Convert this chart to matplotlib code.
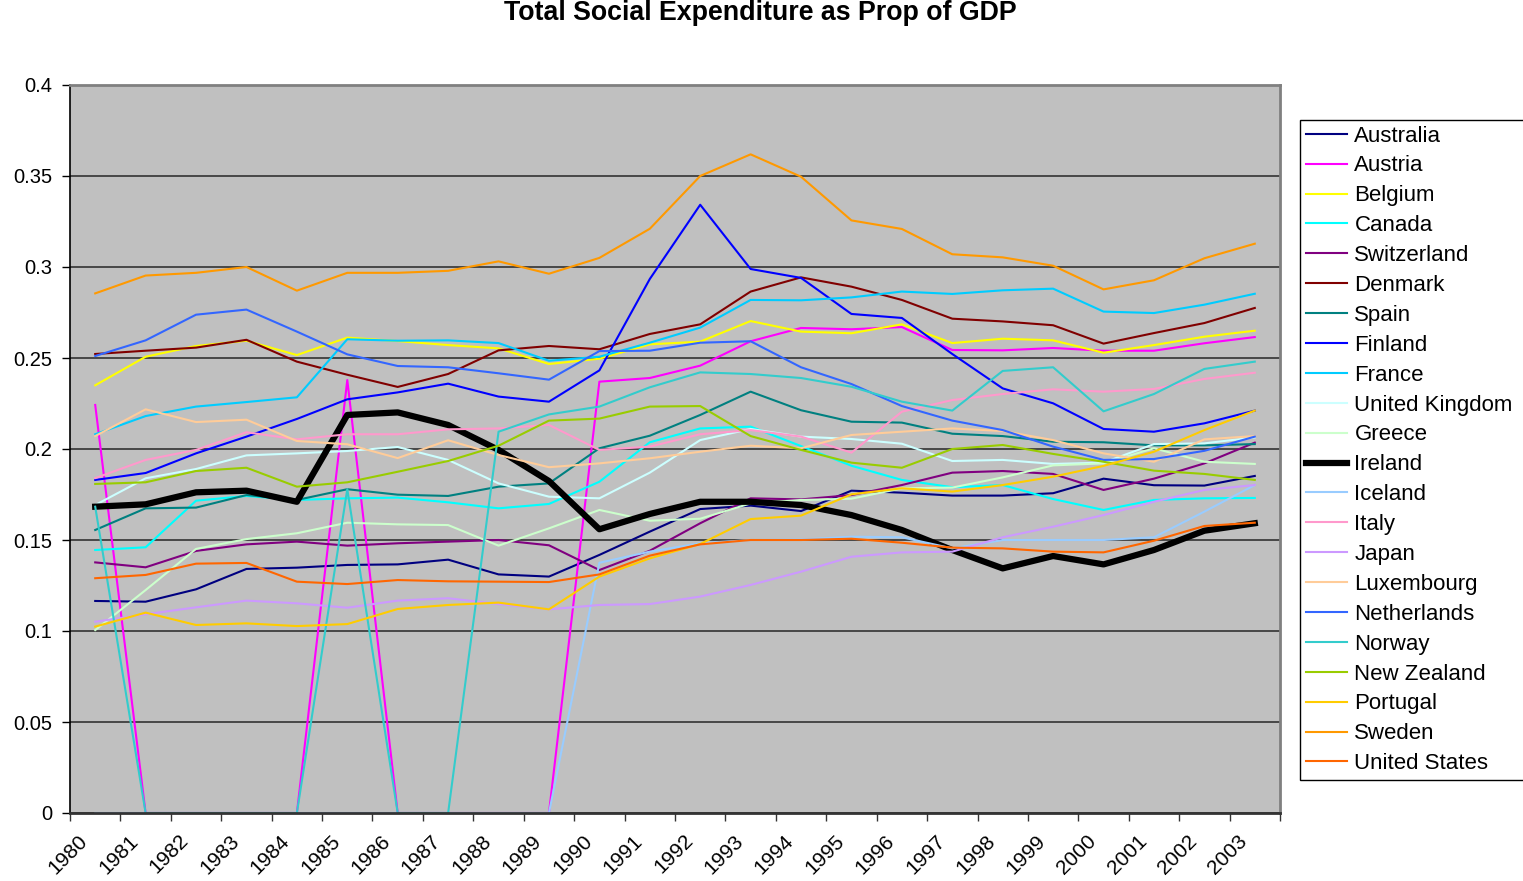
import matplotlib
matplotlib.use("Agg")
import matplotlib.pyplot as plt
import matplotlib.transforms as mtransforms
import numpy as np

plt.rcParams['font.family'] = ['Liberation Sans', 'DejaVu Sans']

years = [str(y) for y in range(1980, 2004)]

australia = [0.1165, 0.1161, 0.1229, 0.1341, 0.1348, 0.1363, 0.1366, 0.1392, 0.1311, 0.1299, 0.1418, 0.1546,
             0.167, 0.1689, 0.1659, 0.1771, 0.176, 0.1744, 0.1744, 0.1757, 0.1837, 0.1801, 0.1799, 0.1852]
austria = [0.2242, 0, 0, 0, 0, 0.2379, 0, 0, 0, 0, 0.237, 0.239,
           0.2458, 0.2592, 0.2665, 0.2658, 0.267, 0.2544, 0.2542, 0.2555, 0.254, 0.254, 0.2581, 0.2615]
belgium = [0.235, 0.2507, 0.2566, 0.2595, 0.2516, 0.2612, 0.2593, 0.2571, 0.2553, 0.2467, 0.2496, 0.2575,
           0.259, 0.2703, 0.2645, 0.2636, 0.2685, 0.2582, 0.2606, 0.2597, 0.2529, 0.2571, 0.2617, 0.265]
canada = [0.1445, 0.146, 0.1716, 0.1742, 0.172, 0.1729, 0.1733, 0.1707, 0.1674, 0.1698, 0.182, 0.2037,
          0.2113, 0.2123, 0.2016, 0.1908, 0.183, 0.179, 0.1802, 0.1725, 0.1665, 0.172, 0.1729, 0.1731]
switzerland = [0.1377, 0.135, 0.144, 0.1476, 0.1491, 0.1469, 0.1482, 0.1491, 0.15, 0.1471, 0.1335, 0.1441,
               0.1592, 0.1729, 0.1723, 0.1747, 0.1802, 0.187, 0.1879, 0.1863, 0.1775, 0.1837, 0.1921, 0.2035]
denmark = [0.2522, 0.254, 0.2557, 0.26, 0.248, 0.2408, 0.2341, 0.2412, 0.2542, 0.2566, 0.2548, 0.2632,
           0.2685, 0.2865, 0.2943, 0.2892, 0.2819, 0.2716, 0.2701, 0.268, 0.2579, 0.2637, 0.2692, 0.2775]
spain = [0.1555, 0.1674, 0.1678, 0.1747, 0.172, 0.1779, 0.1749, 0.1742, 0.1793, 0.1811, 0.2004, 0.2073,
         0.2187, 0.2315, 0.2213, 0.215, 0.2145, 0.2084, 0.2071, 0.204, 0.2037, 0.202, 0.202, 0.2027]
finland = [0.183, 0.1868, 0.1976, 0.2068, 0.2165, 0.2273, 0.2311, 0.2359, 0.2288, 0.226, 0.2432, 0.2934,
           0.3342, 0.2989, 0.294, 0.2742, 0.272, 0.2522, 0.2333, 0.2251, 0.211, 0.2095, 0.2141, 0.2211]
france = [0.2081, 0.2181, 0.2233, 0.2258, 0.2284, 0.2603, 0.2595, 0.2597, 0.2582, 0.2485, 0.2507, 0.2584,
          0.2667, 0.2819, 0.2817, 0.2833, 0.2865, 0.2852, 0.2872, 0.2881, 0.2755, 0.2747, 0.2793, 0.2853]
uk = [0.1692, 0.1839, 0.189, 0.1965, 0.1976, 0.1989, 0.2011, 0.194, 0.1811, 0.1738, 0.1729, 0.187,
      0.2049, 0.211, 0.2068, 0.2055, 0.2029, 0.1934, 0.194, 0.1918, 0.1925, 0.2027, 0.2031, 0.2064]
greece = [0.1005, 0.1225, 0.1451, 0.1505, 0.1537, 0.1595, 0.1586, 0.1582, 0.1469, 0.1564, 0.1665, 0.1606,
          0.1617, 0.1701, 0.172, 0.1727, 0.1784, 0.1788, 0.1844, 0.191, 0.1921, 0.2004, 0.193, 0.1918]
ireland = [0.1683, 0.1696, 0.1762, 0.1771, 0.171, 0.2187, 0.2201, 0.2132, 0.1995, 0.1824, 0.1559, 0.1643,
           0.171, 0.171, 0.1692, 0.1637, 0.1555, 0.1445, 0.1344, 0.1412, 0.1366, 0.1445, 0.1551, 0.1592]
iceland = [0, 0, 0, 0, 0, 0, 0, 0, 0, 0, 0.1375, 0.1436,
           0.1482, 0.15, 0.1503, 0.1518, 0.1515, 0.1454, 0.15, 0.15, 0.15, 0.1515, 0.1656, 0.1802]
italy = [0.184, 0.194, 0.1995, 0.2092, 0.2053, 0.2081, 0.2081, 0.2108, 0.2113, 0.2132, 0.1995, 0.2013,
         0.2081, 0.2104, 0.2068, 0.198, 0.2205, 0.2269, 0.2302, 0.2328, 0.2315, 0.233, 0.2385, 0.2419]
japan = [0.1051, 0.1092, 0.113, 0.1167, 0.1152, 0.1128, 0.1167, 0.118, 0.1148, 0.1119, 0.1143, 0.1148,
         0.1189, 0.1253, 0.1326, 0.1408, 0.1432, 0.1436, 0.1515, 0.1573, 0.1637, 0.171, 0.1775, 0.1802]
luxembourg = [0.2071, 0.2218, 0.2148, 0.2161, 0.2044, 0.2026, 0.195, 0.2048, 0.1967, 0.19, 0.1921, 0.1949,
              0.1985, 0.2018, 0.2004, 0.2077, 0.2095, 0.2113, 0.2099, 0.2049, 0.1976, 0.193, 0.2053, 0.2071]
netherlands = [0.2511, 0.2597, 0.2738, 0.2766, 0.2645, 0.252, 0.2456, 0.2449, 0.2416, 0.2381, 0.2538, 0.254,
               0.2584, 0.2592, 0.2449, 0.2357, 0.2236, 0.2156, 0.2104, 0.2013, 0.194, 0.1945, 0.199, 0.2068]
norway = [0.1683, 0, 0, 0, 0, 0.1779, 0, 0, 0.2095, 0.219, 0.2233, 0.2339,
          0.2421, 0.2412, 0.239, 0.2342, 0.226, 0.2211, 0.2429, 0.2449, 0.2207, 0.2302, 0.244, 0.248]
new_zealand = [0.1808, 0.1817, 0.1879, 0.1897, 0.1793, 0.1817, 0.1875, 0.1934, 0.2018, 0.2156, 0.2167, 0.2233,
               0.2236, 0.2071, 0.1995, 0.1925, 0.1897, 0.2, 0.2022, 0.1973, 0.193, 0.1881, 0.1863, 0.183]
portugal = [0.1024, 0.1101, 0.1033, 0.1042, 0.1027, 0.1038, 0.1121, 0.1143, 0.1156, 0.1119, 0.1299, 0.1399,
            0.1478, 0.1615, 0.1634, 0.1751, 0.1784, 0.1766, 0.1802, 0.1848, 0.1907, 0.1985, 0.2104, 0.2211]
sweden = [0.2855, 0.2953, 0.2968, 0.3, 0.287, 0.2968, 0.2968, 0.2979, 0.3031, 0.2963, 0.305, 0.321,
          0.350, 0.3619, 0.3496, 0.3256, 0.3209, 0.307, 0.3053, 0.3007, 0.2877, 0.2927, 0.3048, 0.3128]
us = [0.129, 0.1308, 0.137, 0.1374, 0.1271, 0.1258, 0.128, 0.1273, 0.1271, 0.1269, 0.1311, 0.1414,
      0.1476, 0.15, 0.15, 0.1507, 0.1485, 0.1458, 0.1454, 0.1436, 0.1432, 0.1496, 0.1577, 0.1595]

series = [
    ("Australia", australia, "#000080"),
    ("Austria", austria, "#FF00FF"),
    ("Belgium", belgium, "#FFFF00"),
    ("Canada", canada, "#00FFFF"),
    ("Switzerland", switzerland, "#800080"),
    ("Denmark", denmark, "#800000"),
    ("Spain", spain, "#008080"),
    ("Finland", finland, "#0000FF"),
    ("France", france, "#00CCFF"),
    ("United Kingdom", uk, "#CCFFFF"),
    ("Greece", greece, "#CCFFCC"),
    ("Ireland", ireland, "#000000"),
    ("Iceland", iceland, "#99CCFF"),
    ("Italy", italy, "#FF99CC"),
    ("Japan", japan, "#CC99FF"),
    ("Luxembourg", luxembourg, "#FFCC99"),
    ("Netherlands", netherlands, "#3366FF"),
    ("Norway", norway, "#33CCCC"),
    ("New Zealand", new_zealand, "#99CC00"),
    ("Portugal", portugal, "#FFCC00"),
    ("Sweden", sweden, "#FF9900"),
    ("United States", us, "#FF6600"),
]

fig = plt.figure(figsize=(15.23, 8.81), dpi=100)
ax = fig.add_axes([70/1523, 68/881, 1210/1523, 728/881])
ax.set_facecolor("#C0C0C0")

x = np.arange(len(years))
for name, vals, col in series:
    lw = 4.5 if name == "Ireland" else 1.5
    ax.plot(x, vals, color=col, lw=lw, label=name)

ax.set_xlim(-0.5, len(years) - 0.5)
ax.set_ylim(0, 0.4)
ax.set_yticks(np.arange(0, 0.401, 0.05))
ax.set_yticklabels(["0", "0.05", "0.1", "0.15", "0.2", "0.25", "0.3", "0.35", "0.4"], fontsize=14.5)
ax.yaxis.grid(True, color="#333333", lw=1.2)
ax.set_axisbelow(True)

# ticks between categories, labels at the centres
ax.set_xticks(np.arange(-0.5, len(years)), labels=[""] * (len(years) + 1))
ax.set_xticks(x, labels=years, minor=True)
ax.tick_params(axis='x', which='minor', length=0, pad=13, labelsize=15)
ax.tick_params(axis='x', which='major', length=6, width=1, color='#333333', direction='out')
ax.tick_params(axis='y', length=6, width=1, direction='out', pad=7)
shift = mtransforms.ScaledTranslation(-17/100, 0, fig.dpi_scale_trans)
for lab in ax.get_xticklabels(minor=True):
    lab.set_rotation(45)
    lab.set_ha('right')
    lab.set_va('top')
    lab.set_rotation_mode('anchor')
    lab.set_transform(lab.get_transform() + shift)

ax.spines['left'].set_color('black')
ax.spines['left'].set_linewidth(1.2)
ax.spines['bottom'].set_color('#333333')
ax.spines['bottom'].set_linewidth(2)
ax.spines['top'].set_color('#808080')
ax.spines['top'].set_linewidth(2)
ax.spines['right'].set_color('#808080')
ax.spines['right'].set_linewidth(2)

fig.text(760/1523, 1 - 13/881, "Total Social Expenditure as Prop of GDP", ha='center', va='center',
         fontsize=19.3, fontweight='bold')

leg = fig.legend(loc='upper left', bbox_to_anchor=(1300/1523, 0.0, 235/1523, 1 - 120/881), mode='expand',
                 fontsize=16, frameon=True, fancybox=False, edgecolor='black', framealpha=1,
                 borderaxespad=0, handlelength=1.85, labelspacing=0.4, borderpad=0.25, handletextpad=0.35)
leg.get_frame().set_linewidth(1.0)

fig.savefig("out.png", dpi=100)
